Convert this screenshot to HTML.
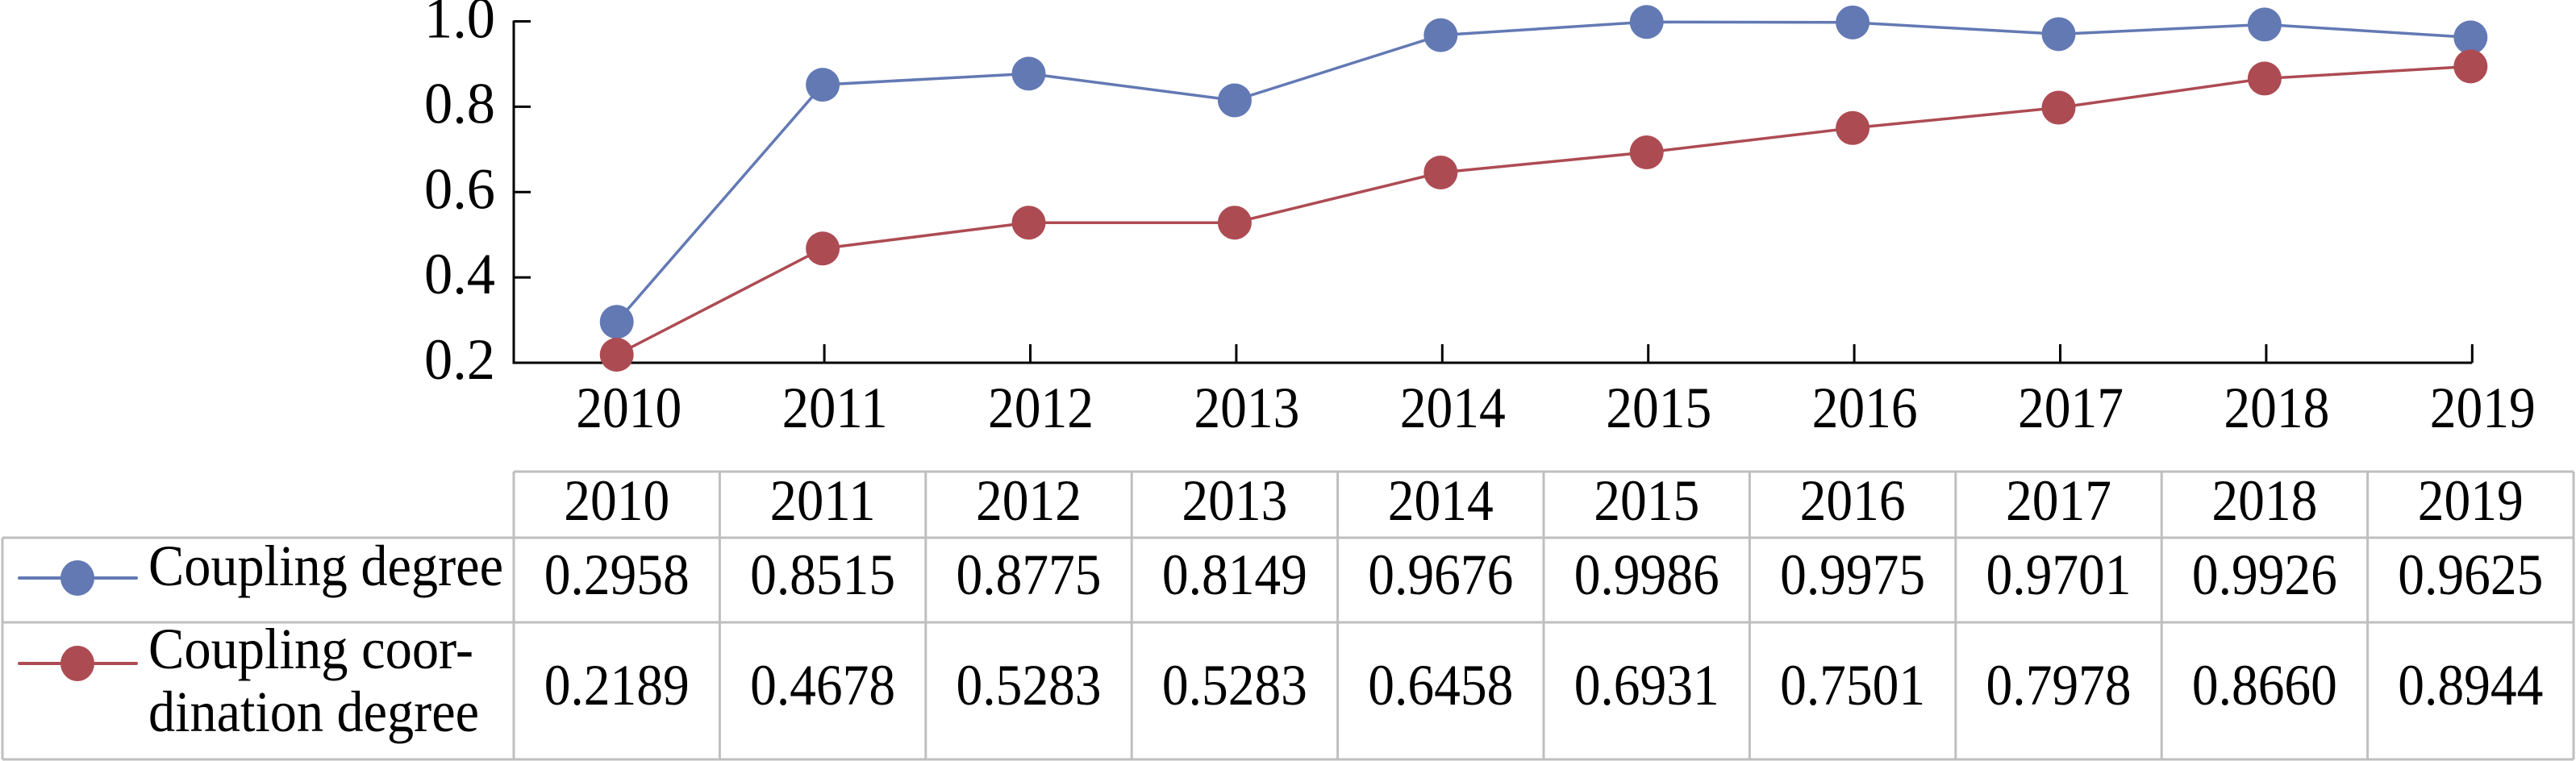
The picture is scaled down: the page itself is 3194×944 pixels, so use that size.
<!DOCTYPE html>
<html><head><meta charset="utf-8"><style>
html,body{margin:0;padding:0;background:#fff;}
svg{display:block;}
text{font-family:"Liberation Serif",serif;fill:#000;}
</style></head><body>
<svg id="chart" width="3194" height="944" viewBox="0 0 3194 944" xmlns="http://www.w3.org/2000/svg">
<g id="grid"></g>
<g id="axes"></g>
<g id="series"></g>
<g id="table"></g>
</svg>
<script>
const years = ["2010","2011","2012","2013","2014","2015","2016","2017","2018","2019"];
const couplingDegree = [0.2958,0.8515,0.8775,0.8149,0.9676,0.9986,0.9975,0.9701,0.9926,0.9625];
const coordinationDegree = [0.2189,0.4678,0.5283,0.5283,0.6458,0.6931,0.7501,0.7978,0.8660,0.8944];
const yTicks = ["0.2","0.4","0.6","0.8","1.0"];

const NS="http://www.w3.org/2000/svg";
const svg=document.getElementById('chart');
const left=637, colW=255.4, yTop=26.5, yBot=450;
function xPos(i){return left+colW*(i+0.5);}
function yPos(v){return yBot-(v-0.2)/0.8*(yBot-yTop);}
function mk(tag,attrs,parent){const e=document.createElementNS(NS,tag);for(const k in attrs)e.setAttribute(k,attrs[k]);(parent||svg).appendChild(e);return e;}
const axes=document.getElementById('axes');
const ser=document.getElementById('series');
const tbl=document.getElementById('table');

// axes
let yAxis=mk('line',{x1:left,y1:yTop-1,x2:left,y2:yBot+1.5,stroke:'#000','stroke-width':3},axes);


let xAxis=mk('line',{x1:left-1.5,y1:yBot,x2:xPos(9)+2,y2:yBot,stroke:'#000','stroke-width':3},axes);


yTicks.forEach(t=>{
  const y=yPos(parseFloat(t));
  const tk=mk('line',{x1:left,y1:y,x2:left+21,y2:y,stroke:'#000','stroke-width':3},axes);
  
  
  const tx=mk('text',{x:614,y:y+20,'text-anchor':'end','font-size':72,textLength:88,lengthAdjust:'spacingAndGlyphs'},axes);
  tx.textContent=t;
  
  
});
years.forEach((yr,i)=>{
  const x=xPos(i);
  if(i>0){const tk=mk('line',{x1:x+2,y1:yBot,x2:x+2,y2:yBot-23,stroke:'#000','stroke-width':3},axes);
  
  }
  const tx=mk('text',{x:x+15,y:530,'text-anchor':'middle','font-size':72,textLength:131,lengthAdjust:'spacingAndGlyphs'},axes);
  tx.textContent=yr;
  
  
});

function drawSeries(vals,color,name){
  const pts=vals.map((v,i)=>xPos(i)+','+yPos(v)).join(' ');
  const pl=mk('polyline',{points:pts,fill:'none',stroke:color,'stroke-width':3.5},ser);
  
  
  vals.forEach((v,i)=>{
    const c=mk('ellipse',{cx:xPos(i),cy:yPos(v),rx:21,ry:21,fill:color},ser);
    
    
  });
}
drawSeries(couplingDegree,'#6379b4','coupling-degree');
drawSeries(coordinationDegree,'#ad4b53','coordination-degree');

// table
const gray='#bfbfbf';
const right=left+colW*10;
const rows=[585,667,772,942];
function hl(x1,x2,y){const l=mk('line',{x1:x1,y1:y,x2:x2,y2:y,stroke:gray,'stroke-width':3},tbl);}
function vl(x,y1,y2){const l=mk('line',{x1:x,y1:y1,x2:x,y2:y2,stroke:gray,'stroke-width':3},tbl);}
hl(left,right,rows[0]);
hl(3,right,rows[1]);hl(3,right,rows[2]);hl(3,right,rows[3]);
vl(3,rows[1],rows[3]);
for(let i=0;i<=10;i++)vl(left+colW*i,rows[0],rows[3]);
years.forEach((yr,i)=>{
  const t=mk('text',{x:xPos(i),y:645,'text-anchor':'middle','font-size':72,textLength:131,lengthAdjust:'spacingAndGlyphs'},tbl);
  t.textContent=yr;
  
  
  const a=mk('text',{x:xPos(i),y:737,'text-anchor':'middle','font-size':72,textLength:180,lengthAdjust:'spacingAndGlyphs'},tbl);
  a.textContent=couplingDegree[i].toFixed(4);
  
  
  const b=mk('text',{x:xPos(i),y:874,'text-anchor':'middle','font-size':72,textLength:180,lengthAdjust:'spacingAndGlyphs'},tbl);
  b.textContent=coordinationDegree[i].toFixed(4);
  
  
});
// legend
function legend(y,color,name){
  const l=mk('line',{x1:24,y1:y,x2:169,y2:y,stroke:color,'stroke-width':4,'stroke-linecap':'round'},tbl);
  
  
  const c=mk('ellipse',{cx:96,cy:y,rx:21,ry:22,fill:color},tbl);
  
  
}
legend(717,'#6379b4','coupling-degree');
legend(823,'#ad4b53','coordination-degree');
const lt1=mk('text',{x:184,y:726,'font-size':72,textLength:440,lengthAdjust:'spacingAndGlyphs'},tbl);
lt1.textContent='Coupling degree';


const lt2=mk('text',{x:184,y:829,'font-size':72,textLength:403,lengthAdjust:'spacingAndGlyphs'},tbl);
lt2.textContent='Coupling coor-';


const lt3=mk('text',{x:184,y:907,'font-size':72,textLength:410,lengthAdjust:'spacingAndGlyphs'},tbl);
lt3.textContent='dination degree';


</script>
</body></html>
